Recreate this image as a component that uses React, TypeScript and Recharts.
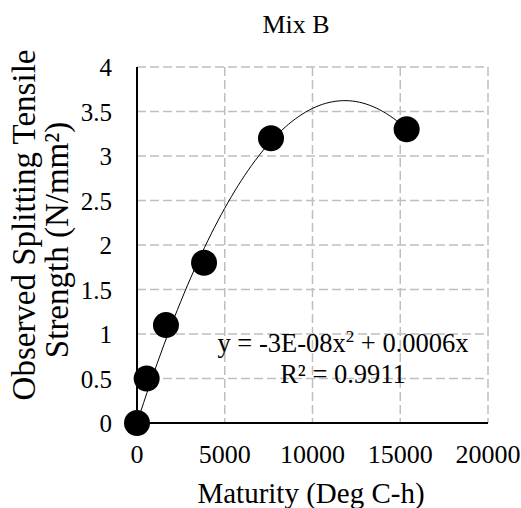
import React from 'react';
import { ComposedChart, Scatter, Line, XAxis, YAxis, CartesianGrid, Customized } from 'recharts';

const chartTitle = 'Mix B';
const xTitle = 'Maturity (Deg C-h)';
const yTitleLines = ['Observed Splitting Tensile', 'Strength (N/mm²)'];
const maturity = [0, 550, 1650, 3820, 7635, 15365];
const strength = [0, 0.5, 1.1, 1.8, 3.2, 3.3];
const xTicks = [0, 5000, 10000, 15000, 20000];
const yTicks = [0, 0.5, 1, 1.5, 2, 2.5, 3, 3.5, 4];
const equationText = 'y = -3E-08x';
const equationTail = ' + 0.0006x';
const r2Text = 'R² = 0.9911';

// least-squares quadratic trendline through the origin (Excel "set intercept = 0")
function fitQuadThroughOrigin(xs: number[], ys: number[]) {
  let s2 = 0, s3 = 0, s4 = 0, sxy = 0, sx2y = 0;
  for (let i = 0; i < xs.length; i++) {
    const x = xs[i], y = ys[i];
    s2 += x * x; s3 += x * x * x; s4 += x * x * x * x;
    sxy += x * y; sx2y += x * x * y;
  }
  const det = s2 * s4 - s3 * s3;
  const b = (sxy * s4 - s3 * sx2y) / det;
  const a = (s2 * sx2y - s3 * sxy) / det;
  return { a, b };
}

const points = maturity.map((x, i) => ({ x, y: strength[i] }));
const fit = fitQuadThroughOrigin(maturity, strength);
const xMax = Math.max(...maturity);
const trend = Array.from({ length: 81 }, (_, i) => {
  const x = (xMax * i) / 80;
  return { x, y: fit.a * x * x + fit.b * x };
});

const FONT = '"Liberation Serif", "Times New Roman", serif';
const serif: React.CSSProperties = { fontFamily: FONT };

const Dot = (props: any) => <circle cx={props.cx} cy={props.cy} r={13} fill="#000" />;

const XTick = (props: any) => (
  <text x={props.x} y={props.y + 40} textAnchor="middle" style={serif} fontFamily={FONT} fontSize={26} fill="#000">
    {props.payload.value}
  </text>
);

const YTick = (props: any) => (
  <text x={props.x - 25} y={props.y + 9} textAnchor="end" style={serif} fontFamily={FONT} fontSize={25} fill="#000">
    {props.payload.value}
  </text>
);

const Overlay = () => (
  <g fontFamily={FONT} style={serif} fill="#000">
    <text x={296} y={33} fontSize={26} textAnchor="middle">{chartTitle}</text>
    <text x={311} y={503} fontSize={29} textAnchor="middle">{xTitle}</text>
    <text x={35} y={225} fontSize={33} textAnchor="middle" transform="rotate(-90 35 225)">{yTitleLines[0]}</text>
    <text x={68} y={240} fontSize={33} textAnchor="middle" transform="rotate(-90 68 240)">{yTitleLines[1]}</text>
    <text x={343} y={352} fontSize={26.5} textAnchor="middle">
      {equationText}
      <tspan fontSize={17} dy={-10}>2</tspan>
      <tspan dy={10}>{equationTail}</tspan>
    </text>
    <text x={343} y={383} fontSize={26.5} textAnchor="middle">{r2Text}</text>
  </g>
);

export default function App() {
  return (
    <div style={{ position: 'absolute', left: 0, top: 0, width: 521, height: 508, background: '#fff', fontFamily: FONT }}>
      <ComposedChart width={521} height={508} margin={{ top: 67, right: 33, bottom: 0, left: 77 }} style={serif}>
        <CartesianGrid stroke="#BFBFBF" strokeWidth={1.5} strokeDasharray="9 4" />
        <XAxis
          type="number"
          dataKey="x"
          domain={[0, 20000]}
          ticks={xTicks}
          height={85}
          axisLine={{ stroke: '#000', strokeWidth: 2 }}
          tickLine={false}
          tickSize={0}
          tickMargin={0}
          tick={XTick}
        />
        <YAxis
          type="number"
          dataKey="y"
          domain={[0, 4]}
          ticks={yTicks}
          width={60}
          axisLine={{ stroke: '#000', strokeWidth: 2 }}
          tickLine={false}
          tickSize={0}
          tickMargin={0}
          tick={YTick}
        />
        <Line
          data={trend}
          dataKey="y"
          type="linear"
          stroke="#000"
          strokeWidth={1}
          dot={false}
          activeDot={false}
          isAnimationActive={false}
        />
        <Scatter data={points} dataKey="y" fill="#000" shape={Dot} isAnimationActive={false} />
        <Customized component={Overlay} />
      </ComposedChart>
    </div>
  );
}
